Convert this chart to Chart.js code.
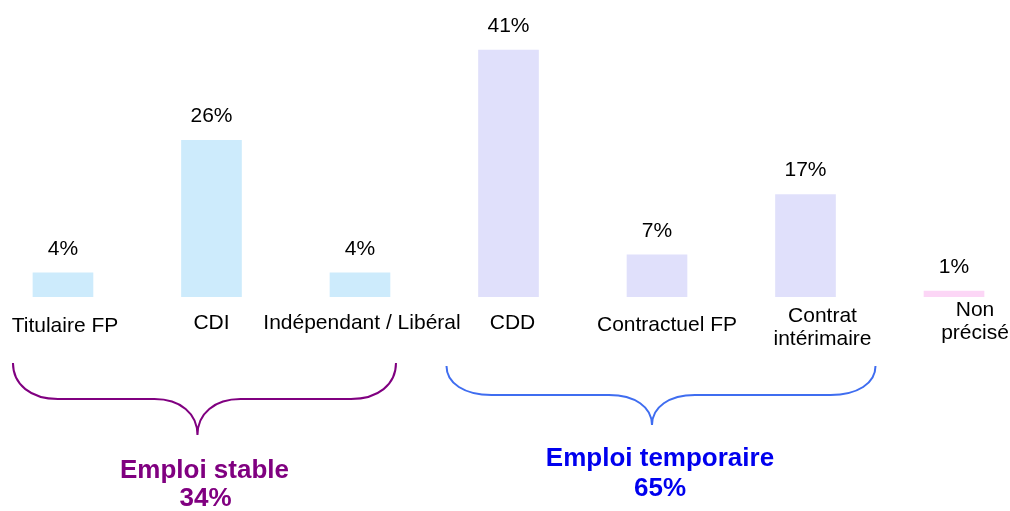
<!DOCTYPE html>
<html>
<head>
<meta charset="utf-8">
<script src="https://cdn.jsdelivr.net/npm/chart.js@4"></script>
<style>
  html, body { margin: 0; padding: 0; background: #fff; }
  #wrap { width: 1010px; height: 511px; position: relative; }
</style>
</head>
<body>
<div id="wrap"><canvas id="chart"></canvas></div>
<script>
const categories = [
    ['Titulaire FP'],
    ['CDI'],
    ['Indépendant / Libéral'],
    ['CDD'],
    ['Contractuel FP'],
    ['Contrat', 'intérimaire'],
    ['Non', 'précisé']
];
const shares = [4, 26, 4, 41, 7, 17, 1];
const groups = ['stable', 'stable', 'stable', 'temp', 'temp', 'temp', 'none'];
const groupTitles = ['Emploi stable', 'Emploi temporaire'];
const groupTotals = [34, 65];

const barColors = { stable: '#cdebfc', temp: '#e0e0fb', none: '#fcd6f6' };
const FONT = '"Liberation Sans", Arial, sans-serif';

// little per-label nudges so the texts sit like in the slide
const labelNudge = [
    { dx: 2, dy: 29 }, { dx: 0, dy: 26 }, { dx: 2, dy: 26 }, { dx: 4, dy: 26 },
    { dx: 10, dy: 28 }, { dx: 17, dy: 19 }, { dx: 21, dy: 13 }
];

const annotations = {
    id: 'annotations',
    afterDatasetsDraw(chart) {
        const ctx = chart.ctx;
        const x = chart.scales.x;
        const y = chart.scales.y;
        const base = y.getPixelForValue(0);
        const meta = chart.getDatasetMeta(0);

        ctx.save();
        ctx.fillStyle = '#000';
        ctx.textAlign = 'center';
        ctx.textBaseline = 'middle';
        ctx.font = '21px ' + FONT;

        meta.data.forEach((bar, i) => {
            ctx.fillText(shares[i] + '%', bar.x, bar.y - 24);
            const n = labelNudge[i];
            categories[i].forEach((line, k) => {
                ctx.fillText(line, bar.x + n.dx, base + n.dy + k * 23);
            });
        });

        // curly brace: rounded corners at both ends, pointed tip at cx
        function brace(x0, x1, cx, yTop, yMid, yTip, color) {
            const cw = 45, mw = 43;
            const h = yMid - yTop, t = yTip - yMid;
            ctx.beginPath();
            ctx.moveTo(x0, yTop);
            ctx.bezierCurveTo(x0, yTop + h * 0.6, x0 + cw * 0.4, yMid, x0 + cw, yMid);
            ctx.lineTo(cx - mw, yMid);
            ctx.bezierCurveTo(cx - mw * 0.4, yMid, cx, yMid + t * 0.4, cx, yTip);
            ctx.moveTo(cx, yTip);
            ctx.bezierCurveTo(cx, yMid + t * 0.4, cx + mw * 0.4, yMid, cx + mw, yMid);
            ctx.lineTo(x1 - cw, yMid);
            ctx.bezierCurveTo(x1 - cw * 0.4, yMid, x1, yTop + h * 0.6, x1, yTop);
            ctx.strokeStyle = color;
            ctx.lineWidth = 2;
            ctx.stroke();
        }
        const p = v => x.getPixelForValue(v);
        brace(p(0) - 50, p(2) + 36, p(1) - 14, base + 66, base + 102, base + 138, '#800080');
        brace(p(3) - 62, p(5) + 70, p(4) - 5, base + 69, base + 98, base + 128, '#3f6df0');

        ctx.font = 'bold 26px ' + FONT;
        ctx.fillStyle = '#800080';
        ctx.fillText(groupTitles[0], p(1) - 7, base + 174);
        ctx.fillText(groupTotals[0] + '%', p(1) - 6, base + 202);
        ctx.fillStyle = '#0000ee';
        ctx.fillText(groupTitles[1], p(4) + 3, base + 162);
        ctx.fillText(groupTotals[1] + '%', p(4) + 3, base + 192);
        ctx.restore();
    }
};

const points = shares.map((v, i) => ({ x: i, y: v }));

new Chart(document.getElementById('chart').getContext('2d'), {
    type: 'bar',
    data: {
        datasets: [{
            data: points,
            backgroundColor: groups.map(g => barColors[g]),
            borderWidth: 0,
            barThickness: 60
        }]
    },
    options: {
        responsive: true,
        maintainAspectRatio: false,
        animation: false,
        layout: { padding: { top: 0, left: 0, right: 0, bottom: 214 } },
        plugins: {
            legend: { display: false },
            tooltip: { enabled: false }
        },
        scales: {
            x: { type: 'linear', display: false, offset: false, bounds: 'ticks', min: -0.424, max: 6.377 },
            y: { display: false, min: 0, max: 49.3 }
        }
    },
    plugins: [annotations]
});
</script>
</body>
</html>
